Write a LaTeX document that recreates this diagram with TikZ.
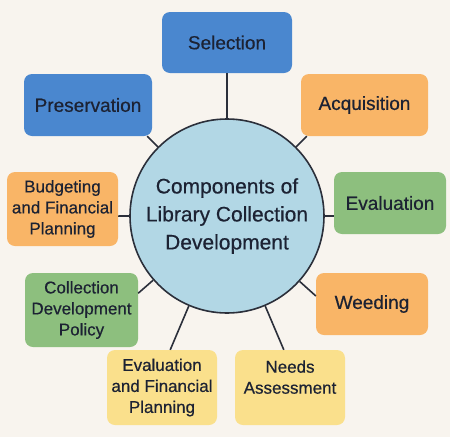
\documentclass[tikz,border=0pt]{standalone}
\usepackage{fontspec}
\setmainfont{Liberation Sans}[FakeBold=0.5]
\definecolor{bgc}{HTML}{F8F4EE}
\definecolor{blueb}{HTML}{4A87CF}
\definecolor{orangeb}{HTML}{F9B567}
\definecolor{greenb}{HTML}{8DBF7E}
\definecolor{yellowb}{HTML}{FAE08C}
\definecolor{circc}{HTML}{B2D7E5}
\definecolor{textc}{HTML}{1C2233}
\definecolor{linec}{HTML}{2B2F3A}
\tikzset{
  comp/.style={rounded corners=8pt, align=center, text=textc, inner sep=2pt,
    font=\fontsize{17}{21}\selectfont},
  single/.style={font=\fontsize{19}{22}\selectfont},
  conn/.style={draw=linec, line width=1.6pt},
  hub/.style={circle, draw=linec, line width=1.6pt, fill=circc, minimum size=194pt,
    inner sep=0pt, align=center, text=textc, font=\fontsize{21}{28}\selectfont},
}
\begin{document}
\begin{tikzpicture}[x=1pt,y=-1pt]
\fill[bgc] (0,0) rectangle (450,437);
\useasboundingbox (0,0) rectangle (450,437);
\node[hub] (c) at (227,216) {Components of\\Library Collection\\Development};
\node[comp, single, fill=blueb, minimum width=130pt, minimum height=61pt] (sel) at (227,42.5) {Selection};
\node[comp, single, fill=orangeb, minimum width=127pt, minimum height=62pt] (acq) at (364.5,105) {Acquisition};
\node[comp, single, fill=blueb, minimum width=128pt, minimum height=62pt] (pres) at (88,105) {Preservation};
\node[comp, single, fill=greenb, minimum width=112pt, minimum height=62pt] (eval) at (390,203) {Evaluation};
\node[comp, fill=orangeb, minimum width=111pt, minimum height=74pt] (bud) at (62.5,209) {Budgeting\\and Financial\\Planning};
\node[comp, fill=greenb, minimum width=113pt, minimum height=74pt] (cdp) at (81.5,310) {Collection\\Development\\Policy};
\node[comp, single, fill=orangeb, minimum width=112pt, minimum height=62pt] (weed) at (372,304) {Weeding};
\node[comp, fill=yellowb, minimum width=110pt, minimum height=75pt] (efp) at (162,387.5) {Evaluation\\and Financial\\Planning};
\node[comp, fill=yellowb, minimum width=110pt, minimum height=75pt] (needs) at (290,387.5) {Needs\\Assessment\\\mbox{}};
\draw[conn] (c.90) -- (sel.south);
\draw[conn] (c.45) -- (intersection of c.center--c.45 and acq.south west--acq.south east);
\draw[conn] (c.135) -- (intersection of c.center--c.135 and pres.south west--pres.south east);
\draw[conn] (c.0) -- (intersection of c.center--c.0 and eval.north west--eval.south west);
\draw[conn] (c.180) -- (intersection of c.center--c.180 and bud.north east--bud.south east);
\draw[conn] (c.221) -- (intersection of c.center--c.221 and cdp.north east--cdp.south east);
\draw[conn] (c.-42) -- (intersection of c.center--c.-42 and weed.north west--weed.south west);
\draw[conn] (c.-113) -- (intersection of c.center--c.-113 and efp.north west--efp.north east);
\draw[conn] (c.-67) -- (intersection of c.center--c.-67 and needs.north west--needs.north east);
\end{tikzpicture}
\end{document}
